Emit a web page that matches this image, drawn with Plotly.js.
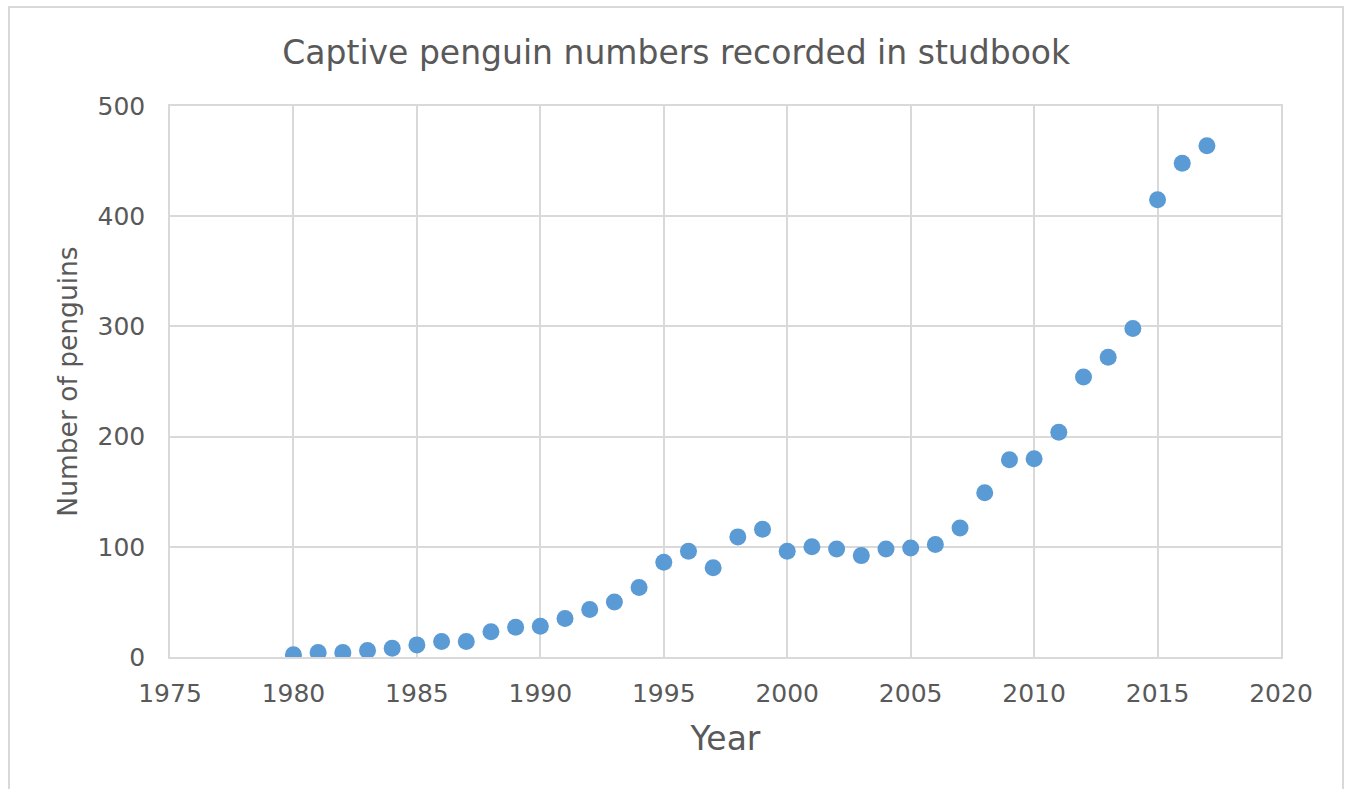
<!DOCTYPE html>
<html>
<head>
<meta charset="utf-8">
<script src="https://cdn.plot.ly/plotly-3.0.1.min.js"></script>
<style>
html,body{margin:0;padding:0;background:#fff;}
#wrap{position:relative;width:1347px;height:789px;}
#chart{width:1347px;height:789px;}
#frame{position:absolute;left:8px;top:6px;width:1336px;height:800px;border:2px solid #d9d9d9;box-sizing:border-box;pointer-events:none;}
</style>
</head>
<body>
<div id="wrap"><div id="chart"></div><div id="frame"></div></div>
<script>
const years = [1980,1981,1982,1983,1984,1985,1986,1987,1988,1989,1990,1991,1992,1993,1994,1995,1996,1997,1998,1999,2000,2001,2002,2003,2004,2005,2006,2007,2008,2009,2010,2011,2012,2013,2014,2015,2016,2017];
const penguins = [2,4,4,6,8,11,14,14,23,27,28,35,43,50,63,86,96,81,109,116,96,100,98,92,98,99,102,117,149,179,180,204,254,272,298,415,448,464];
const xTicks = [1975,1980,1985,1990,1995,2000,2005,2010,2015,2020];
const yTicks = [0,100,200,300,400,500];

const fontFam = '"DejaVu Sans", "Open Sans", sans-serif';
const grey = '#595959';

Plotly.newPlot('chart', [{
  x: years, y: penguins, type: 'scatter', mode: 'markers',
  marker: {color: '#5B9BD5', size: 17},
  hoverinfo: 'x+y'
}], {
  width: 1347, height: 789,
  margin: {l: 170, r: 66, t: 106, b: 132},
  paper_bgcolor: '#fff', plot_bgcolor: '#fff',
  title: {text: 'Captive penguin numbers recorded in studbook', font: {family: fontFam, size: 33, color: grey}, x: 0.502, xanchor: 'center', xref: 'container', y: 0.934, yref: 'container', yanchor: 'middle'},
  xaxis: {
    range: [1975, 2020], tickvals: xTicks, ticktext: xTicks.map(String),
    showgrid: true, gridcolor: '#d9d9d9', gridwidth: 1.5,
    showline: true, linecolor: '#d9d9d9', linewidth: 1.5, mirror: true,
    zeroline: false, ticks: 'outside', ticklen: 13, tickcolor: 'rgba(0,0,0,0)',
    tickfont: {family: fontFam, size: 25, color: grey},
    title: {text: 'Year', font: {family: fontFam, size: 33, color: grey}, standoff: 20}
  },
  yaxis: {
    range: [0, 500], tickvals: yTicks, ticktext: yTicks.map(String),
    showgrid: true, gridcolor: '#d9d9d9', gridwidth: 1.5,
    showline: true, linecolor: '#d9d9d9', linewidth: 1.5, mirror: true,
    zeroline: false, ticks: 'outside', ticklen: 18, tickcolor: 'rgba(0,0,0,0)',
    tickfont: {family: fontFam, size: 25, color: grey},
    title: {text: 'Number of penguins', font: {family: fontFam, size: 26.5, color: grey}, standoff: 12}
  },
  showlegend: false
}, {displayModeBar: false});
</script>
</body>
</html>
